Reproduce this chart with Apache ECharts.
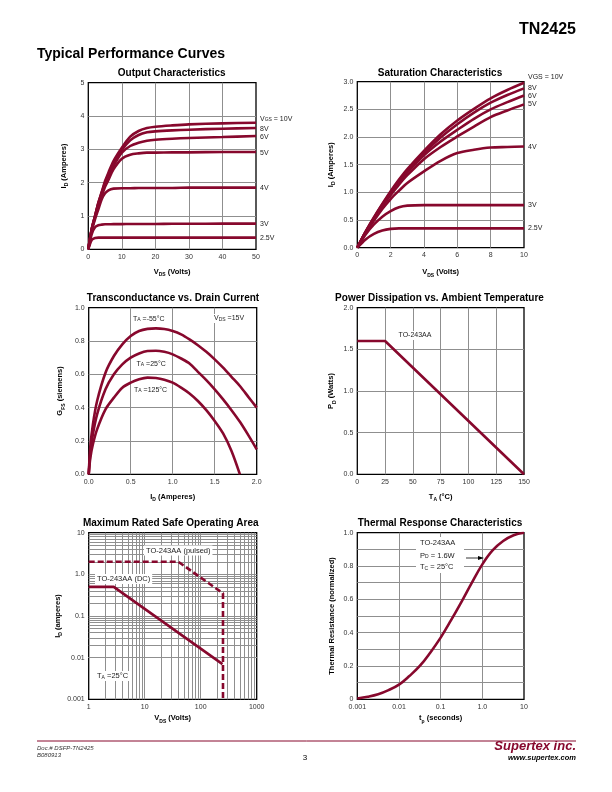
<!DOCTYPE html>
<html><head><meta charset="utf-8">
<script src="https://cdn.jsdelivr.net/npm/echarts@6/dist/echarts.min.js"></script>
<style>html,body{margin:0;padding:0;background:#fff}#c{width:612px;height:792px}</style>
</head><body><div id="c"></div>
<script>
// ---------- DATA ----------
// Output Characteristics (I_D vs V_DS)
const outVds  = [0,1,2,3,4,5,6,7.5,10,12.5,15,17.5,20,25,30,40,50];
const outId10 = [0,0.6,1.0,1.4,1.72,2.05,2.3,2.65,3.05,3.38,3.55,3.64,3.68,3.72,3.75,3.78,3.80];
const outId8  = [0,0.6,1.0,1.39,1.70,2.0,2.25,2.58,2.98,3.27,3.43,3.51,3.54,3.57,3.59,3.62,3.64];
const outId6  = [0,0.59,0.98,1.36,1.66,1.95,2.18,2.5,2.90,3.10,3.20,3.26,3.29,3.32,3.34,3.37,3.40];
const outId5  = [0,0.58,0.96,1.32,1.6,1.88,2.08,2.4,2.72,2.84,2.88,2.90,2.90,2.91,2.91,2.92,2.92];
const outId4  = [0,0.55,0.9,1.2,1.5,1.68,1.77,1.82,1.83,1.83,1.84,1.84,1.84,1.84,1.85,1.85,1.85];
const outId3  = [0,0.45,0.66,0.72,0.74,0.75,0.75,0.755,0.755,0.76,0.76,0.76,0.76,0.765,0.765,0.77,0.77];
const outId25 = [0,0.28,0.34,0.35,0.35,0.35,0.35,0.35,0.35,0.35,0.35,0.35,0.35,0.35,0.35,0.35,0.35];
const outLabels = ['V{s|GS} = 10V','8V','6V','5V','4V','3V','2.5V'];

// Saturation Characteristics
const satVds  = [0,0.5,1,1.5,2,2.5,3,4,5,6,7,8,9,10];
const satId10 = [0,0.29,0.55,0.79,1.02,1.23,1.42,1.75,2.05,2.30,2.51,2.70,2.85,2.98];
const satId8  = [0,0.29,0.54,0.78,1.0,1.21,1.39,1.71,1.99,2.23,2.44,2.62,2.76,2.88];
const satId6  = [0,0.28,0.53,0.77,0.98,1.18,1.36,1.67,1.92,2.13,2.33,2.50,2.63,2.75];
const satId5  = [0,0.28,0.52,0.75,0.95,1.14,1.31,1.60,1.82,2.01,2.19,2.36,2.48,2.59];
const satId4  = [0,0.27,0.49,0.7,0.88,1.03,1.17,1.38,1.57,1.71,1.77,1.81,1.82,1.83];
const satId3  = [0,0.24,0.42,0.56,0.66,0.73,0.76,0.77,0.77,0.77,0.77,0.77,0.77,0.77];
const satId25 = [0,0.15,0.25,0.31,0.34,0.35,0.35,0.35,0.35,0.35,0.35,0.35,0.35,0.35];
const satLabels = ['VGS = 10V','8V','6V','5V','4V','3V','2.5V'];

// Transconductance vs Drain Current
const gfsId    = [0,0.02,0.05,0.1,0.2,0.3,0.4,0.5,0.6,0.7,0.8,0.9,1.0,1.1,1.2,1.3,1.4,1.5,1.6,1.7,1.8,1.9,2.0];
const gfsM55   = [0,0.17,0.30,0.44,0.61,0.71,0.78,0.83,0.86,0.873,0.876,0.872,0.86,0.84,0.81,0.775,0.735,0.69,0.64,0.585,0.53,0.465,0.40];
const gfs25    = [0,0.13,0.24,0.36,0.51,0.60,0.66,0.70,0.725,0.74,0.742,0.735,0.72,0.695,0.665,0.615,0.565,0.51,0.45,0.385,0.315,0.235,0.15];
const gfs125   = [0,0.10,0.18,0.27,0.39,0.46,0.52,0.55,0.57,0.58,0.578,0.568,0.55,0.52,0.485,0.44,0.385,0.32,0.245,0.14,0.0,null,null];

// Power Dissipation vs Ambient Temperature
const pdTa = [0,25,150];
const pdW  = [1.6,1.6,0];

// Maximum Rated Safe Operating Area
const soaDcV = [1,2.8,245];
const soaDcI = [0.5,0.5,0.007];
const soaPuV = [1,40,250,250];
const soaPuI = [2.0,2.0,0.35,0.001];
const soaMinorX = [2,3,4,5,6,7,8,9,20,30,40,50,60,70,80,90,200,300,400,500,600,700,800,900];
const soaMinorY = [0.002,0.003,0.004,0.005,0.006,0.007,0.008,0.009,0.02,0.03,0.04,0.05,0.06,0.07,0.08,0.09,0.2,0.3,0.4,0.5,0.6,0.7,0.8,0.9,2,3,4,5,6,7,8,9];

// Thermal Response
const thT = [0.001,0.00178,0.00316,0.00562,0.01,0.0178,0.0316,0.0562,0.1,0.178,0.316,0.562,1,1.78,3.16,5.62,10];
const thR = [0.005,0.015,0.03,0.055,0.088,0.14,0.20,0.28,0.37,0.475,0.585,0.70,0.81,0.895,0.95,0.985,1.0];

// ---------- STYLE ----------
const RED = '#87082d';
const FF = "'Liberation Sans', Arial, sans-serif";
const GRIDC = '#8f8f8f';
const sub = {fontSize:5, fontFamily:FF, verticalAlign:'bottom', lineHeight:6, color:'#222'};
const subB = Object.assign({}, sub, {fontWeight:'bold', color:'#000'});

const pair = (xs, ys) => xs.map((x,i)=>[x, ys[i]]).filter(p=>p[1]!=null);

const grids = [
  {left:88.3, top:82.7, width:167.7, height:166.6},
  {left:357.3, top:81.7, width:166.7, height:166},
  {left:88.7, top:307.7, width:168, height:166.6},
  {left:357.3, top:307.7, width:166.7, height:166.6},
  {left:88.7, top:532.7, width:168, height:166.6},
  {left:357.3, top:532.7, width:166.7, height:166.6}
].map(g => Object.assign(g, {show:true, borderColor:'#000', borderWidth:1.3, containLabel:false}));

function axis(gi, type, o) {
  return Object.assign({
    type: type, gridIndex: gi,
    axisLine:{show:false}, axisTick:{show:false},
    splitLine:{show:true, showMinLine:false, showMaxLine:false, lineStyle:{color:GRIDC, width:1}},
    axisLabel:{fontSize:7, color:'#333', fontFamily:FF, margin:4},
    nameLocation:'middle',
    nameTextStyle:{fontSize:7.5, fontWeight:'bold', fontFamily:FF, color:'#000', lineHeight:11, rich:{s:subB}}
  }, o);
}
const f1 = v => v.toFixed(1);
const logLab = map => v => { const k = Math.round(Math.log10(v)); return map[k] !== undefined ? map[k] : ''; };
const AL = f => ({fontSize:7, color:'#333', fontFamily:FF, margin:4, formatter:f});

const xAxes = [
  axis(0,'value',{min:0,max:50,interval:10,name:'V{s|DS} (Volts)',nameGap:17}),
  axis(1,'value',{min:0,max:10,interval:2,name:'V{s|DS} (Volts)',nameGap:19}),
  axis(2,'value',{min:0,max:2,interval:0.5,name:'I{s|D} (Amperes)',nameGap:17,axisLabel:AL(f1)}),
  axis(3,'value',{min:0,max:150,interval:25,name:'T{s|A} (°C)',nameGap:17}),
  axis(4,'log',{min:1,max:1000,logBase:10,name:'V{s|DS} (Volts)',nameGap:13.5,axisLabel:AL(logLab({0:'1',1:'10',2:'100',3:'1000'}))}),
  axis(5,'log',{min:0.001,max:10,logBase:10,name:'t{s|p} (seconds)',nameGap:13.5,axisLabel:AL(logLab({'-3':'0.001','-2':'0.01','-1':'0.1',0:'1.0',1:'10'}))})
];
const yAxes = [
  axis(0,'value',{min:0,max:5,interval:1,name:'I{s|D} (Amperes)',nameGap:19}),
  axis(1,'value',{min:0,max:3,interval:0.5,name:'I{s|D} (Amperes)',nameGap:21,axisLabel:AL(f1)}),
  axis(2,'value',{min:0,max:1,interval:0.2,name:'G{s|FS} (siemens)',nameGap:23,axisLabel:AL(f1)}),
  axis(3,'value',{min:0,max:2,interval:0.5,name:'P{s|D} (Watts)',nameGap:20.5,axisLabel:AL(f1)}),
  axis(4,'log',{min:0.001,max:10,logBase:10,name:'I{s|D} (amperes)',nameGap:24,axisLabel:AL(logLab({'-3':'0.001','-2':'0.01','-1':'0.1',0:'1.0',1:'10'}))}),
  axis(5,'value',{min:0,max:1,interval:0.1,name:'Thermal Resistance (normalized)',nameGap:19.5,axisLabel:AL(v=>{const k=Math.round(v*10); return k%2? '' : (k===0?'0':(k/10).toFixed(1));})})
];

function curve(gi, xs, ys, extra) {
  return Object.assign({
    type:'line', xAxisIndex:gi, yAxisIndex:gi, data:pair(xs,ys),
    showSymbol:false, symbol:'none', smooth:0.3, z:3,
    lineStyle:{color:RED, width:2.6}, animation:false, silent:true
  }, extra||{});
}
function endLab(text, dy) {
  return {show:true, formatter:text, distance:4, offset:[0,dy], fontSize:7, color:'#222', fontFamily:FF, rich:{s:sub}};
}

const series = [];
const outSets = [outId10,outId8,outId6,outId5,outId4,outId3,outId25];
const outDy = [-4,1,1,1,0.5,0.5,0];
outSets.forEach((ys,i)=>series.push(curve(0,outVds,ys,{endLabel:endLab(outLabels[i],outDy[i])})));
const satSets = [satId10,satId8,satId6,satId5,satId4,satId3,satId25];
const satDy = [-6,0,0.5,0,0.5,0,0];
satSets.forEach((ys,i)=>series.push(curve(1,satVds,ys,{endLabel:endLab(satLabels[i],satDy[i])})));
[gfsM55,gfs25,gfs125].forEach(ys=>series.push(curve(2,gfsId,ys,{smooth:0.3})));
series.push(curve(3,pdTa,pdW,{smooth:false}));
// SOA minor grid lines through the axes
series.push({
  type:'line', xAxisIndex:4, yAxisIndex:4, data:[[1,0.001]], showSymbol:false, symbol:'none',
  lineStyle:{opacity:0}, z:1, silent:true, animation:false,
  markLine:{z:1, silent:true, symbol:['none','none'], label:{show:false}, animation:false,
    lineStyle:{color:GRIDC, width:1, type:'solid'}, emphasis:{disabled:true},
    data: soaMinorX.map(v=>({xAxis:v})).concat(soaMinorY.map(v=>({yAxis:v})))}
});
series.push(curve(4,soaDcV,soaDcI,{smooth:false}));
series.push(curve(4,soaPuV,soaPuI,{smooth:false,lineStyle:{color:RED,width:2.6,type:[6,3]}}));
series.push(curve(5,thT,thR,{smooth:0.4}));

// ---------- TEXT / ANNOTATIONS ----------
function T(x,y,text,font,opt) {
  return Object.assign({type:'text', x:x, y:y, z:100, silent:true,
    style:Object.assign({text:text, font:font, fill:'#000', align:'center', verticalAlign:'middle'}, opt||{})});
}
const lab = (x,y,text,align,bg,fs) => ({type:'text', x:x, y:y, z:2, silent:true,
  style:Object.assign({text:text, fontSize:fs||7, fontFamily:FF, fill:'#222', align:align||'left', verticalAlign:'middle',
    rich:{s:{fontSize:5, fontFamily:FF, verticalAlign:'bottom', lineHeight:6, fill:'#222'}}}, bg?{backgroundColor:'#fff', padding:[1,2]}:{})});

const graphic = [
  T(576,30,'TN2425','bold 16px '+FF,{align:'right'}),
  T(37,54,'Typical Performance Curves','bold 14px '+FF,{align:'left'}),
  T(171.7,73.5,'Output Characteristics','bold 10px '+FF),
  T(440,73.5,'Saturation Characteristics','bold 10px '+FF),
  T(173,298,'Transconductance vs. Drain Current','bold 10px '+FF),
  T(439.5,298.5,'Power Dissipation vs. Ambient Temperature','bold 10px '+FF),
  T(170.7,523.5,'Maximum Rated Safe Operating Area','bold 10px '+FF),
  T(440,523.5,'Thermal Response Characteristics','bold 10px '+FF),
  lab(131,319,'T{s|A} =-55°C','left',true),
  lab(212,318.5,'V{s|DS} =15V','left',true),
  lab(134.5,364,'T{s|A} =25°C','left',true),
  lab(132,390,'T{s|A} =125°C','left',true),
  lab(396.5,335.5,'TO-243AA','left',true),
  lab(144,550.5,'TO-243AA (pulsed)','left',true,7.5),
  lab(95,579,'TO-243AA (DC)','left',true,7.5),
  lab(95,676,'T{s|A} =25°C','left',true,7.5),
  {type:'rect', z:1, silent:true, shape:{x:416,y:537,width:48,height:36}, style:{fill:'#fff'}},
  {type:'text', z:2, silent:true, x:420, y:542.5, style:{text:'TO-243AA', fontSize:7.5, fontFamily:FF, fill:'#222', align:'left', verticalAlign:'middle'}},
  {type:'text', z:2, silent:true, x:420, y:555.5, style:{text:'P{s|D} = 1.6W', fontSize:7.5, fontFamily:FF, fill:'#222', align:'left', verticalAlign:'middle', rich:{s:{fontSize:5, fontFamily:FF, verticalAlign:'bottom', lineHeight:6, fill:'#222'}}}},
  {type:'text', z:2, silent:true, x:420, y:567, style:{text:'T{s|C} = 25°C', fontSize:7.5, fontFamily:FF, fill:'#222', align:'left', verticalAlign:'middle', rich:{s:{fontSize:5, fontFamily:FF, verticalAlign:'bottom', lineHeight:6, fill:'#222'}}}},
  {type:'line', z:5, silent:true, shape:{x1:466,y1:558,x2:480,y2:558}, style:{stroke:'#000', lineWidth:0.8}},
  {type:'polygon', z:5, silent:true, shape:{points:[[484,558],[478,556],[478,560]]}, style:{fill:'#000'}},
  {type:'line', z:5, silent:true, shape:{x1:37,y1:741,x2:576,y2:741}, style:{stroke:RED, lineWidth:1}},
  T(37,748,'Doc.# DSFP-TN2425','italic 6px '+FF,{align:'left',fill:'#333'}),
  T(37,755,'B080913','italic 6px '+FF,{align:'left',fill:'#333'}),
  T(305,758,'3','8px '+FF,{fill:'#000'}),
  T(576,746.5,'Supertex inc.','italic bold 13px '+FF,{align:'right',fill:RED}),
  T(576,758,'www.supertex.com','italic bold 7.5px '+FF,{align:'right',fill:'#000'})
];

const chart = echarts.init(document.getElementById('c'), null, {renderer:'canvas', width:612, height:792});
chart.setOption({
  animation:false,
  backgroundColor:'#fff',
  textStyle:{fontFamily:FF},
  grid:grids, xAxis:xAxes, yAxis:yAxes, series:series, graphic:graphic
});
</script></body></html>
